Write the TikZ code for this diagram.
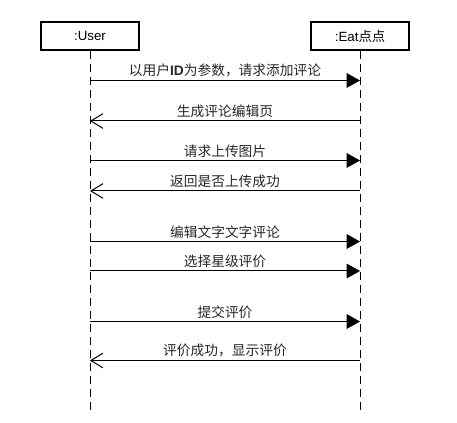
\documentclass[tikz,border=0pt]{standalone}
\usepackage{fontspec}
\setmainfont{Liberation Sans}
\newfontfamily\cjk{Noto Sans CJK SC}
\usetikzlibrary{arrows.meta}
\begin{document}
\begin{tikzpicture}[x=0.75pt,y=-0.75pt,
  lifebox/.style={draw,line width=1pt,minimum width=98*0.75pt,minimum height=28*0.75pt,
    inner sep=0pt,font=\fontsize{10}{12}\selectfont},
  lifeline/.style={line width=0.75pt,dash pattern=on 6pt off 3.75pt},
  call/.style={line width=0.75pt,-{Triangle[length=10pt,width=11pt]}},
  reply/.style={line width=0.75pt,-{Straight Barb[length=9pt,width=11pt,line width=0.75pt]}},
  msg/.style={above,inner sep=2pt,text=black!85,font=\cjk\fontsize{10.3}{12}\selectfont}]
\useasboundingbox (0,0) rectangle (457,423);

% participants
\node[lifebox] (user) at (90,36) {:User};
\node[lifebox] (eat) at (360,36) {:Eat{\cjk 点点}};

% lifelines
\coordinate (uend) at (90,410);
\coordinate (eend) at (360,410);
\draw[lifeline] (user.south) -- (uend);
\draw[lifeline] (eat.south) -- (eend);

% message rows
\foreach \i/\y in {1/80.5,2/121,3/160.5,4/191,5/241.5,6/271,7/321.5,8/360.5}{
  \coordinate (u\i) at (90,\y);
  \coordinate (e\i) at (360,\y);
}

\draw[call]  (u1) -- node[msg]{以用户{\fontspec{Liberation Sans}\bfseries ID}为参数，请求添加评论} (e1);
\draw[reply] (e2) -- node[msg]{生成评论编辑页} (u2);
\draw[call]  (u3) -- node[msg]{请求上传图片} (e3);
\draw[reply] (e4) -- node[msg]{返回是否上传成功} (u4);
\draw[call]  (u5) -- node[msg]{编辑文字文字评论} (e5);
\draw[call]  (u6) -- node[msg]{选择星级评价} (e6);
\draw[call]  (u7) -- node[msg]{提交评价} (e7);
\draw[reply] (e8) -- node[msg]{评价成功，显示评价} (u8);
\end{tikzpicture}
\end{document}
